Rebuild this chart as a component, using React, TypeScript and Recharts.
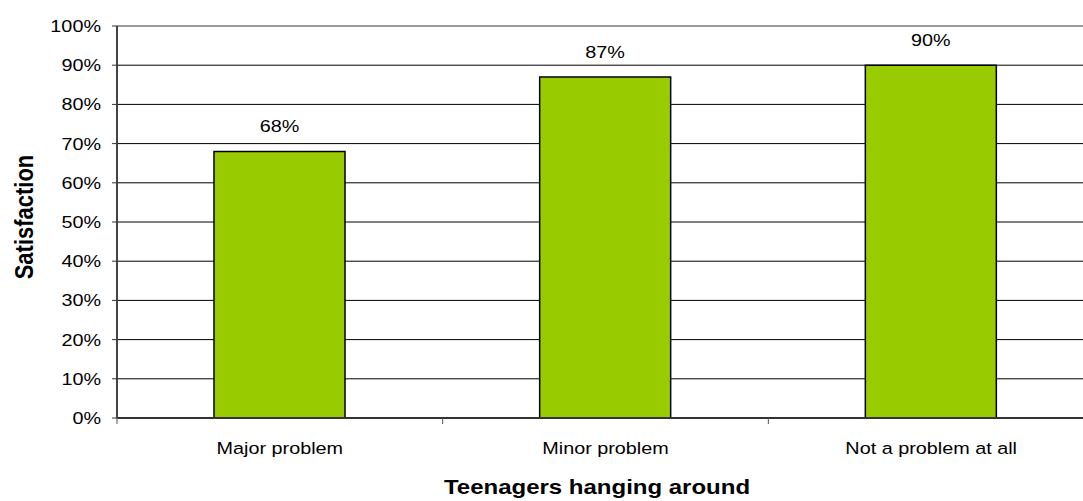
import { BarChart, Bar, XAxis, YAxis, CartesianGrid, ReferenceLine, LabelList, Label } from 'recharts';

const categories: string[] = ['Major problem', 'Minor problem', 'Not a problem at all'];
const satisfaction: number[] = [68, 87, 90];
const yTicks: number[] = [0, 10, 20, 30, 40, 50, 60, 70, 80, 90, 100];

const data = categories.map((name, i) => ({ name, value: satisfaction[i] }));

// the original picture is stretched sideways, so text gets a 1.2 x-scale
const FONT = '"Liberation Sans", Arial, sans-serif';
const STRETCH = 1.2;

const CHART_W = 1100;
const CHART_H = 501;
const MARGIN = { top: 26, right: 6, left: 57, bottom: 0 };
const Y_AXIS_W = 60;
const BAND = (CHART_W - MARGIN.left - MARGIN.right - Y_AXIS_W) / categories.length;

const YTick = (props: any) => {
    const { x, y, payload } = props;
    return (
        <g transform={`translate(${x},${y}) scale(${STRETCH},1)`}>
            <text x={0} y={0} dy="0.36em" textAnchor="end" fontSize={16.5} fontFamily={FONT} fill="#000">
                {`${payload.value}%`}
            </text>
        </g>
    );
};

const XTick = (props: any) => {
    const { x, y, payload } = props;
    const left = x - BAND / 2;
    return (
        <g>
            <line x1={left} x2={left} y1={y} y2={y + 6} stroke="#555" strokeWidth={1} />
            <g transform={`translate(${x},${y + 30}) scale(${STRETCH},1)`}>
                <text x={0} y={0} dy="0.36em" textAnchor="middle" fontSize={16.5} fontFamily={FONT} fill="#000">
                    {payload.value}
                </text>
            </g>
        </g>
    );
};

const ValueLabel = (props: any) => {
    const { x, y, width, value } = props;
    return (
        <g transform={`translate(${x + width / 2},${y - 25}) scale(${STRETCH},1)`}>
            <text x={0} y={0} dy="0.36em" textAnchor="middle" fontSize={16.5} fontFamily={FONT} fill="#000">
                {`${value}%`}
            </text>
        </g>
    );
};

const XTitle = () => (
    <g transform={`translate(597,494) scale(${STRETCH},1)`}>
        <text x={0} y={0} textAnchor="middle" fontSize={20} fontWeight="bold" fontFamily={FONT} fill="#000">
            Teenagers hanging around
        </text>
    </g>
);

const YTitle = () => (
    <g transform={`translate(23,217) scale(${STRETCH},1) rotate(-90)`}>
        <text x={0} y={0} dy="0.36em" textAnchor="middle" fontSize={22} fontWeight="bold" fontFamily={FONT} fill="#000">
            Satisfaction
        </text>
    </g>
);

export default function App() {
    return (
        <div style={{ position: 'absolute', left: 0, top: 0, width: 1083, height: 501, overflow: 'hidden', background: '#fff' }}>
            <BarChart width={CHART_W} height={CHART_H} data={data} margin={MARGIN}>
                <CartesianGrid vertical={false} stroke="#000" strokeWidth={1} />
                <XAxis
                    dataKey="name"
                    height={83}
                    tickSize={0}
                    tickMargin={0}
                    tickLine={false}
                    tick={<XTick />}
                    axisLine={{ stroke: '#333', strokeWidth: 2 }}
                >
                    <Label content={<XTitle />} />
                </XAxis>
                <YAxis
                    width={Y_AXIS_W}
                    domain={[0, 100]}
                    ticks={yTicks}
                    interval={0}
                    tickSize={5}
                    tickMargin={11}
                    tickLine={{ stroke: '#333', strokeWidth: 1 }}
                    tick={<YTick />}
                    axisLine={{ stroke: '#444', strokeWidth: 2 }}
                >
                    <Label content={<YTitle />} />
                </YAxis>
                <ReferenceLine y={100} stroke="#999" strokeWidth={2} />
                <Bar dataKey="value" fill="#99cc00" stroke="#000" strokeWidth={1.5} barSize={131} isAnimationActive={false}>
                    <LabelList dataKey="value" content={<ValueLabel />} />
                </Bar>
            </BarChart>
        </div>
    );
}
